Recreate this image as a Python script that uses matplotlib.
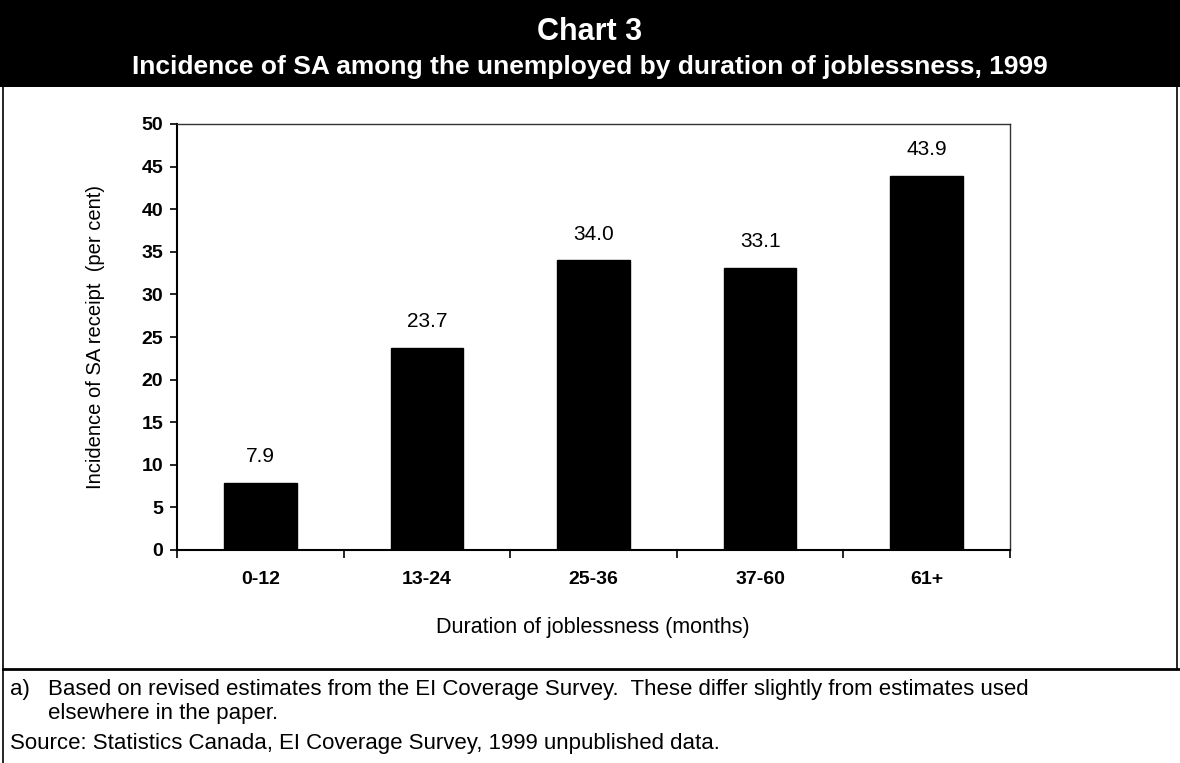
import matplotlib
matplotlib.use("Agg")
import matplotlib.pyplot as plt
from matplotlib.lines import Line2D
from matplotlib.patches import Rectangle

plt.rcParams['font.family'] = ['Liberation Sans', 'DejaVu Sans']

categories = ["0-12", "13-24", "25-36", "37-60", "61+"]
values = [7.9, 23.7, 34.0, 33.1, 43.9]
yticks = [0, 5, 10, 15, 20, 25, 30, 35, 40, 45, 50]

W, H = 1180, 763
fig = plt.figure(figsize=(W / 100, H / 100), dpi=100)

def fx(px):
    return px / W

def fy(py):
    return 1 - py / H

# Header band
band_bottom = 87
fig.patches.append(Rectangle((0, fy(band_bottom)), 1, band_bottom / H, transform=fig.transFigure,
                             facecolor='black', edgecolor='none', zorder=0))
fig.text(0.5, fy(32), "Chart 3", ha='center', va='center', color='white',
         fontsize=22, fontweight='bold')
fig.text(0.5, fy(67), "Incidence of SA among the unemployed by duration of joblessness, 1999",
         ha='center', va='center', color='white', fontsize=19, fontweight='bold')

# Frame lines
sep = 669
fig.add_artist(Line2D([fx(3), fx(3)], [0, 1], transform=fig.transFigure, color='black', lw=1.2))
fig.add_artist(Line2D([fx(1177), fx(1177)], [fy(sep), 1], transform=fig.transFigure, color='black', lw=1.2))
fig.add_artist(Line2D([fx(3), 1], [fy(sep), fy(sep)], transform=fig.transFigure, color='black', lw=2))

# Plot area
ax_l, ax_r, ax_t, ax_b = 177, 1010, 124, 550
ax = fig.add_axes([fx(ax_l), fy(ax_b), fx(ax_r) - fx(ax_l), (ax_b - ax_t) / H])
x = range(len(categories))
bars = ax.bar(x, values, width=0.435, color='black', edgecolor='black', zorder=2)
for xi, v in zip(x, values):
    ax.annotate(f"{v:.1f}", (xi, v), xytext=(0, 12), textcoords='offset points',
                ha='center', va='bottom', fontsize=15)

ax.set_xlim(-0.5, len(categories) - 0.5)
ax.set_ylim(0, 50)
ax.set_yticks(yticks)
ax.set_yticklabels([str(t) for t in yticks], fontsize=14, fontweight='bold')
ax.set_xticks([i - 0.5 for i in range(len(categories) + 1)])
ax.set_xticklabels([])
ax.set_xticks(list(x), minor=True)
ax.set_xticklabels(categories, minor=True, fontsize=14, fontweight='bold')
ax.tick_params(axis='x', which='minor', length=0, pad=15)
ax.tick_params(axis='x', which='major', length=6, width=1.2, direction='out')
ax.tick_params(axis='y', length=5, width=1.2, direction='out', pad=5)

for side in ('left', 'bottom'):
    ax.spines[side].set_linewidth(1.5)
    ax.spines[side].set_color('black')
for side in ('top', 'right'):
    ax.spines[side].set_linewidth(1.0)
    ax.spines[side].set_color('#333333')

ax.set_ylabel("Incidence of SA receipt  (per cent)", fontsize=14.5)
ax.yaxis.set_label_coords((105 - ax_l) / (ax_r - ax_l), 0.5)
fig.text(fx(593), fy(627), "Duration of joblessness (months)", ha='center', va='center', fontsize=15.5)

# Footnotes
fig.text(fx(10), fy(690), "a)", ha='left', va='center', fontsize=16)
fig.text(fx(48), fy(690), "Based on revised estimates from the EI Coverage Survey.  These differ slightly from estimates used",
         ha='left', va='center', fontsize=16)
fig.text(fx(48), fy(713), "elsewhere in the paper.", ha='left', va='center', fontsize=16)
fig.text(fx(10), fy(744), "Source: Statistics Canada, EI Coverage Survey, 1999 unpublished data.",
         ha='left', va='center', fontsize=16)

fig.savefig("out.png", dpi=100, facecolor='white')
